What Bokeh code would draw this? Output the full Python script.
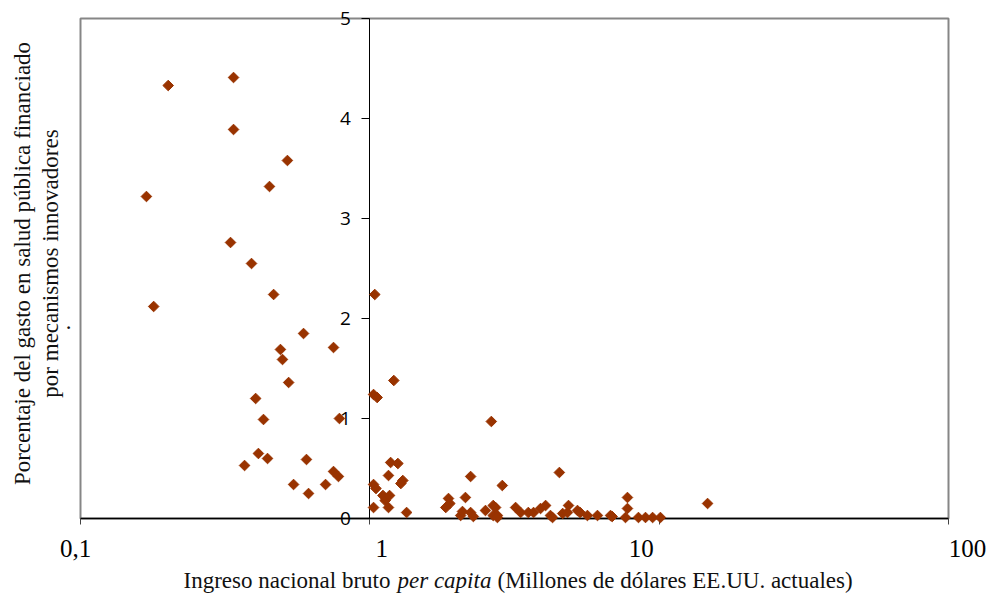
import numpy as np
from bokeh.plotting import figure
from bokeh.models import FixedTicker, Label, Range1d
from bokeh.embed import file_html
from bokeh.resources import INLINE

# Ingreso nacional bruto per capita (millones de USD) y % del gasto en salud pública
income = [
    0.169, 0.179, 0.201, 0.338, 0.338, 0.330, 0.390, 0.519, 0.450, 0.465,
    0.590, 0.749, 0.491, 0.499, 0.524, 0.403, 0.429, 0.785, 0.412, 0.369,
    0.443, 0.604, 0.545, 0.614, 0.703, 0.749, 0.779,
    1.04, 1.03, 1.06, 1.21,
    1.18, 1.25, 1.16, 1.28, 1.30, 1.03, 1.05, 1.11, 1.13, 1.17, 1.16, 1.03, 1.34,
    1.83, 1.87, 1.89, 2.06, 2.09, 2.14, 2.23, 2.23, 2.28, 2.51, 2.63, 2.67, 2.67,
    2.72, 2.76, 2.76, 2.87,
    3.19, 3.32, 3.53, 3.68, 3.89, 4.05, 4.21, 4.28, 4.52, 4.64, 4.82, 4.86, 5.22,
    5.33, 5.65, 6.12, 6.79, 6.88, 7.65, 7.77, 7.77, 8.48, 8.97, 9.49, 10.1, 14.7,
]
share = [
    3.22, 2.12, 4.33, 4.41, 3.89, 2.76, 2.55, 3.58, 3.32, 2.24,
    1.85, 1.71, 1.69, 1.59, 1.36, 1.20, 0.99, 1.00, 0.65, 0.53,
    0.60, 0.59, 0.34, 0.25, 0.34, 0.47, 0.42,
    2.24, 1.24, 1.21, 1.38,
    0.56, 0.55, 0.43, 0.35, 0.38, 0.34, 0.30, 0.23, 0.18, 0.23, 0.11, 0.11, 0.06,
    0.11, 0.20, 0.15, 0.03, 0.07, 0.21, 0.06, 0.42, 0.02, 0.08, 0.97, 0.13, 0.03,
    0.11, 0.03, 0.01, 0.33,
    0.11, 0.06, 0.06, 0.06, 0.10, 0.13, 0.03, 0.01, 0.46, 0.05, 0.06, 0.13, 0.08,
    0.06, 0.03, 0.03, 0.03, 0.02, 0.01, 0.10, 0.21, 0.01, 0.01, 0.01, 0.01, 0.15,
]

x_min, x_max = 0.1, 100
y_min, y_max = 0, 5
x_ticks = [0.1, 1, 10, 100]
x_tick_labels = ["0,1", "1", "10", "100"]
y_ticks = [0, 1, 2, 3, 4, 5]
y_tick_labels = ["0", "1", "2", "3", "4", "5"]
y_cross = 1

x_title_parts = ["Ingreso nacional bruto ", "per capita", "(Millones de dólares EE.UU. actuales)"]
y_title_lines = ["Porcentaje del gasto en salud pública financiado", "por mecanismos innovadores", "."]

# ---- layout (pixels) ----
W, H = 989, 594
PLOT_L, PLOT_R, PLOT_T, PLOT_B = 80, 948, 18, 518
px_per_decade = (PLOT_R - PLOT_L) / np.log10(x_max / x_min)
px_per_unit = (PLOT_B - PLOT_T) / (y_max - y_min)


def xd(sx):
    """screen x (px) -> data x on the log axis"""
    return float(10 ** (np.log10(x_min) + (sx - PLOT_L) / px_per_decade))


def yd(sy):
    """screen y (px) -> data y"""
    return float(y_min + (PLOT_B - sy) / px_per_unit)


SERIF = "Liberation Serif"

p = figure(width=W, height=H, x_axis_type="log",
           x_range=Range1d(xd(0), xd(W)), y_range=Range1d(yd(H), yd(0)),
           output_backend="svg", toolbar_location=None,
           x_axis_location="above", y_axis_location="right",
           min_border=0, min_border_left=0, min_border_right=0,
           min_border_top=0, min_border_bottom=0)

p.background_fill_color = "white"
p.border_fill_color = "white"
p.outline_line_color = None
p.xgrid.visible = False
p.ygrid.visible = False

# plot box (gray frame)
p.quad(left=[x_min], right=[x_max], bottom=[y_min], top=[y_max],
       fill_color=None, line_color="#868686", line_width=2)

# x axis (log) crossing at y = 0, ticks pointing down
xa = p.xaxis[0]
xa.fixed_location = y_min
xa.bounds = (x_min, x_max)
xa.ticker = FixedTicker(ticks=x_ticks, minor_ticks=[])
xa.axis_line_color = "black"
xa.axis_line_width = 1.5
xa.major_tick_line_color = "#444444"
xa.major_tick_out = 0
xa.major_tick_in = 6
xa.minor_tick_out = 0
xa.minor_tick_in = 0
xa.major_label_standoff = 0
xa.major_label_text_font_size = "1px"
xa.major_label_text_alpha = 0

# y axis crossing at x = 1, ticks pointing left
ya = p.yaxis[0]
ya.fixed_location = y_cross
ya.bounds = (y_min, y_max)
ya.ticker = FixedTicker(ticks=y_ticks, minor_ticks=[])
ya.axis_line_color = "black"
ya.axis_line_width = 1
ya.major_tick_line_color = "black"
ya.major_tick_out = 0
ya.major_tick_in = 8
ya.minor_tick_out = 0
ya.minor_tick_in = 0
ya.major_label_standoff = 0
ya.major_label_text_font_size = "1px"
ya.major_label_text_alpha = 0

pts = p.scatter(income, share, marker="square", angle=np.pi / 4, size=7.5,
                fill_color="#993300", line_color="#993300")
pts.level = "overlay"

# x tick labels
x_label_shift = [-5, 12, -18, 19]
for t, lab, dx in zip(x_ticks, x_tick_labels, x_label_shift):
    p.add_layout(Label(x=t, y=yd(548), x_offset=dx, text=lab,
                       text_align="center", text_baseline="middle",
                       text_font=SERIF, text_font_size="25px",
                       text_color="black"))

# y tick labels (left of the crossing axis)
for t, lab in zip(y_ticks, y_tick_labels):
    p.add_layout(Label(x=y_cross, y=t, x_offset=-19, text=lab,
                       text_align="right", text_baseline="middle",
                       text_font="Open Sans", text_font_size="19px",
                       text_color="black"))

# x title with italic part
title_y = yd(580)
p.add_layout(Label(x=xd(183), y=title_y, text=x_title_parts[0],
                   text_align="left", text_baseline="middle",
                   text_font=SERIF, text_font_size="23px", text_color="#111111"))
p.add_layout(Label(x=xd(397), y=title_y, text=x_title_parts[1],
                   text_align="left", text_baseline="middle",
                   text_font=SERIF, text_font_size="23px", text_font_style="italic",
                   text_color="#111111"))
p.add_layout(Label(x=xd(497), y=title_y, text=x_title_parts[2],
                   text_align="left", text_baseline="middle",
                   text_font=SERIF, text_font_size="23px", text_color="#111111"))

# y title (rotated, two lines plus a stray period)
y_title_sx = [22, 50, 62]
y_title_sy = [263, 263, 327]
for line, sx, sy in zip(y_title_lines, y_title_sx, y_title_sy):
    p.add_layout(Label(x=xd(sx), y=yd(sy), text=line, angle=np.pi / 2,
                       text_align="center", text_baseline="middle",
                       text_font=SERIF, text_font_size="23px", text_color="#111111"))

open("out.html", "w").write(file_html(p, INLINE))
